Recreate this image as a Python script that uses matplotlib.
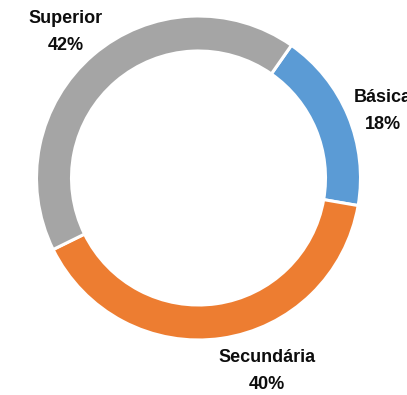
import matplotlib
matplotlib.use("Agg")
import matplotlib.pyplot as plt

plt.rcParams['font.family'] = ['Liberation Sans Narrow', 'Liberation Sans', 'DejaVu Sans']

categories = ['Básica', 'Secundária', 'Superior']
shares = [18, 40, 42]
colors = ['#5B9BD5', '#ED7D31', '#A5A5A5']

# label anchor points in pixel space (x, y from top)
label_pos = [(354, 111), (267, 371), (66, 32)]
label_ha = ['left', 'center', 'center']

W, H = 407, 395
fig = plt.figure(figsize=(W / 100, H / 100), dpi=100)
ax = fig.add_axes([0, 0, 1, 1])
ax.set_xlim(0, W)
ax.set_ylim(0, H)
ax.set_aspect('equal')
ax.axis('off')

cx, cy = 198.5, H - 178
outer = 162
ax.pie(shares, colors=colors, center=(cx, cy), radius=outer,
       startangle=90 - 35, counterclock=False,
       wedgeprops=dict(width=35, edgecolor='white', linewidth=2.2))

for name, val, (lx, ly), ha in zip(categories, shares, label_pos, label_ha):
    ax.text(lx, H - ly, f"{name}\n{val}%", ha=ha, va='center',
            fontsize=13, fontweight='bold', color='#0D0D0D',
            linespacing=1.7, multialignment='center')

ax.set_xlim(0, W)
ax.set_ylim(0, H)
fig.savefig('out.png', dpi=100)
